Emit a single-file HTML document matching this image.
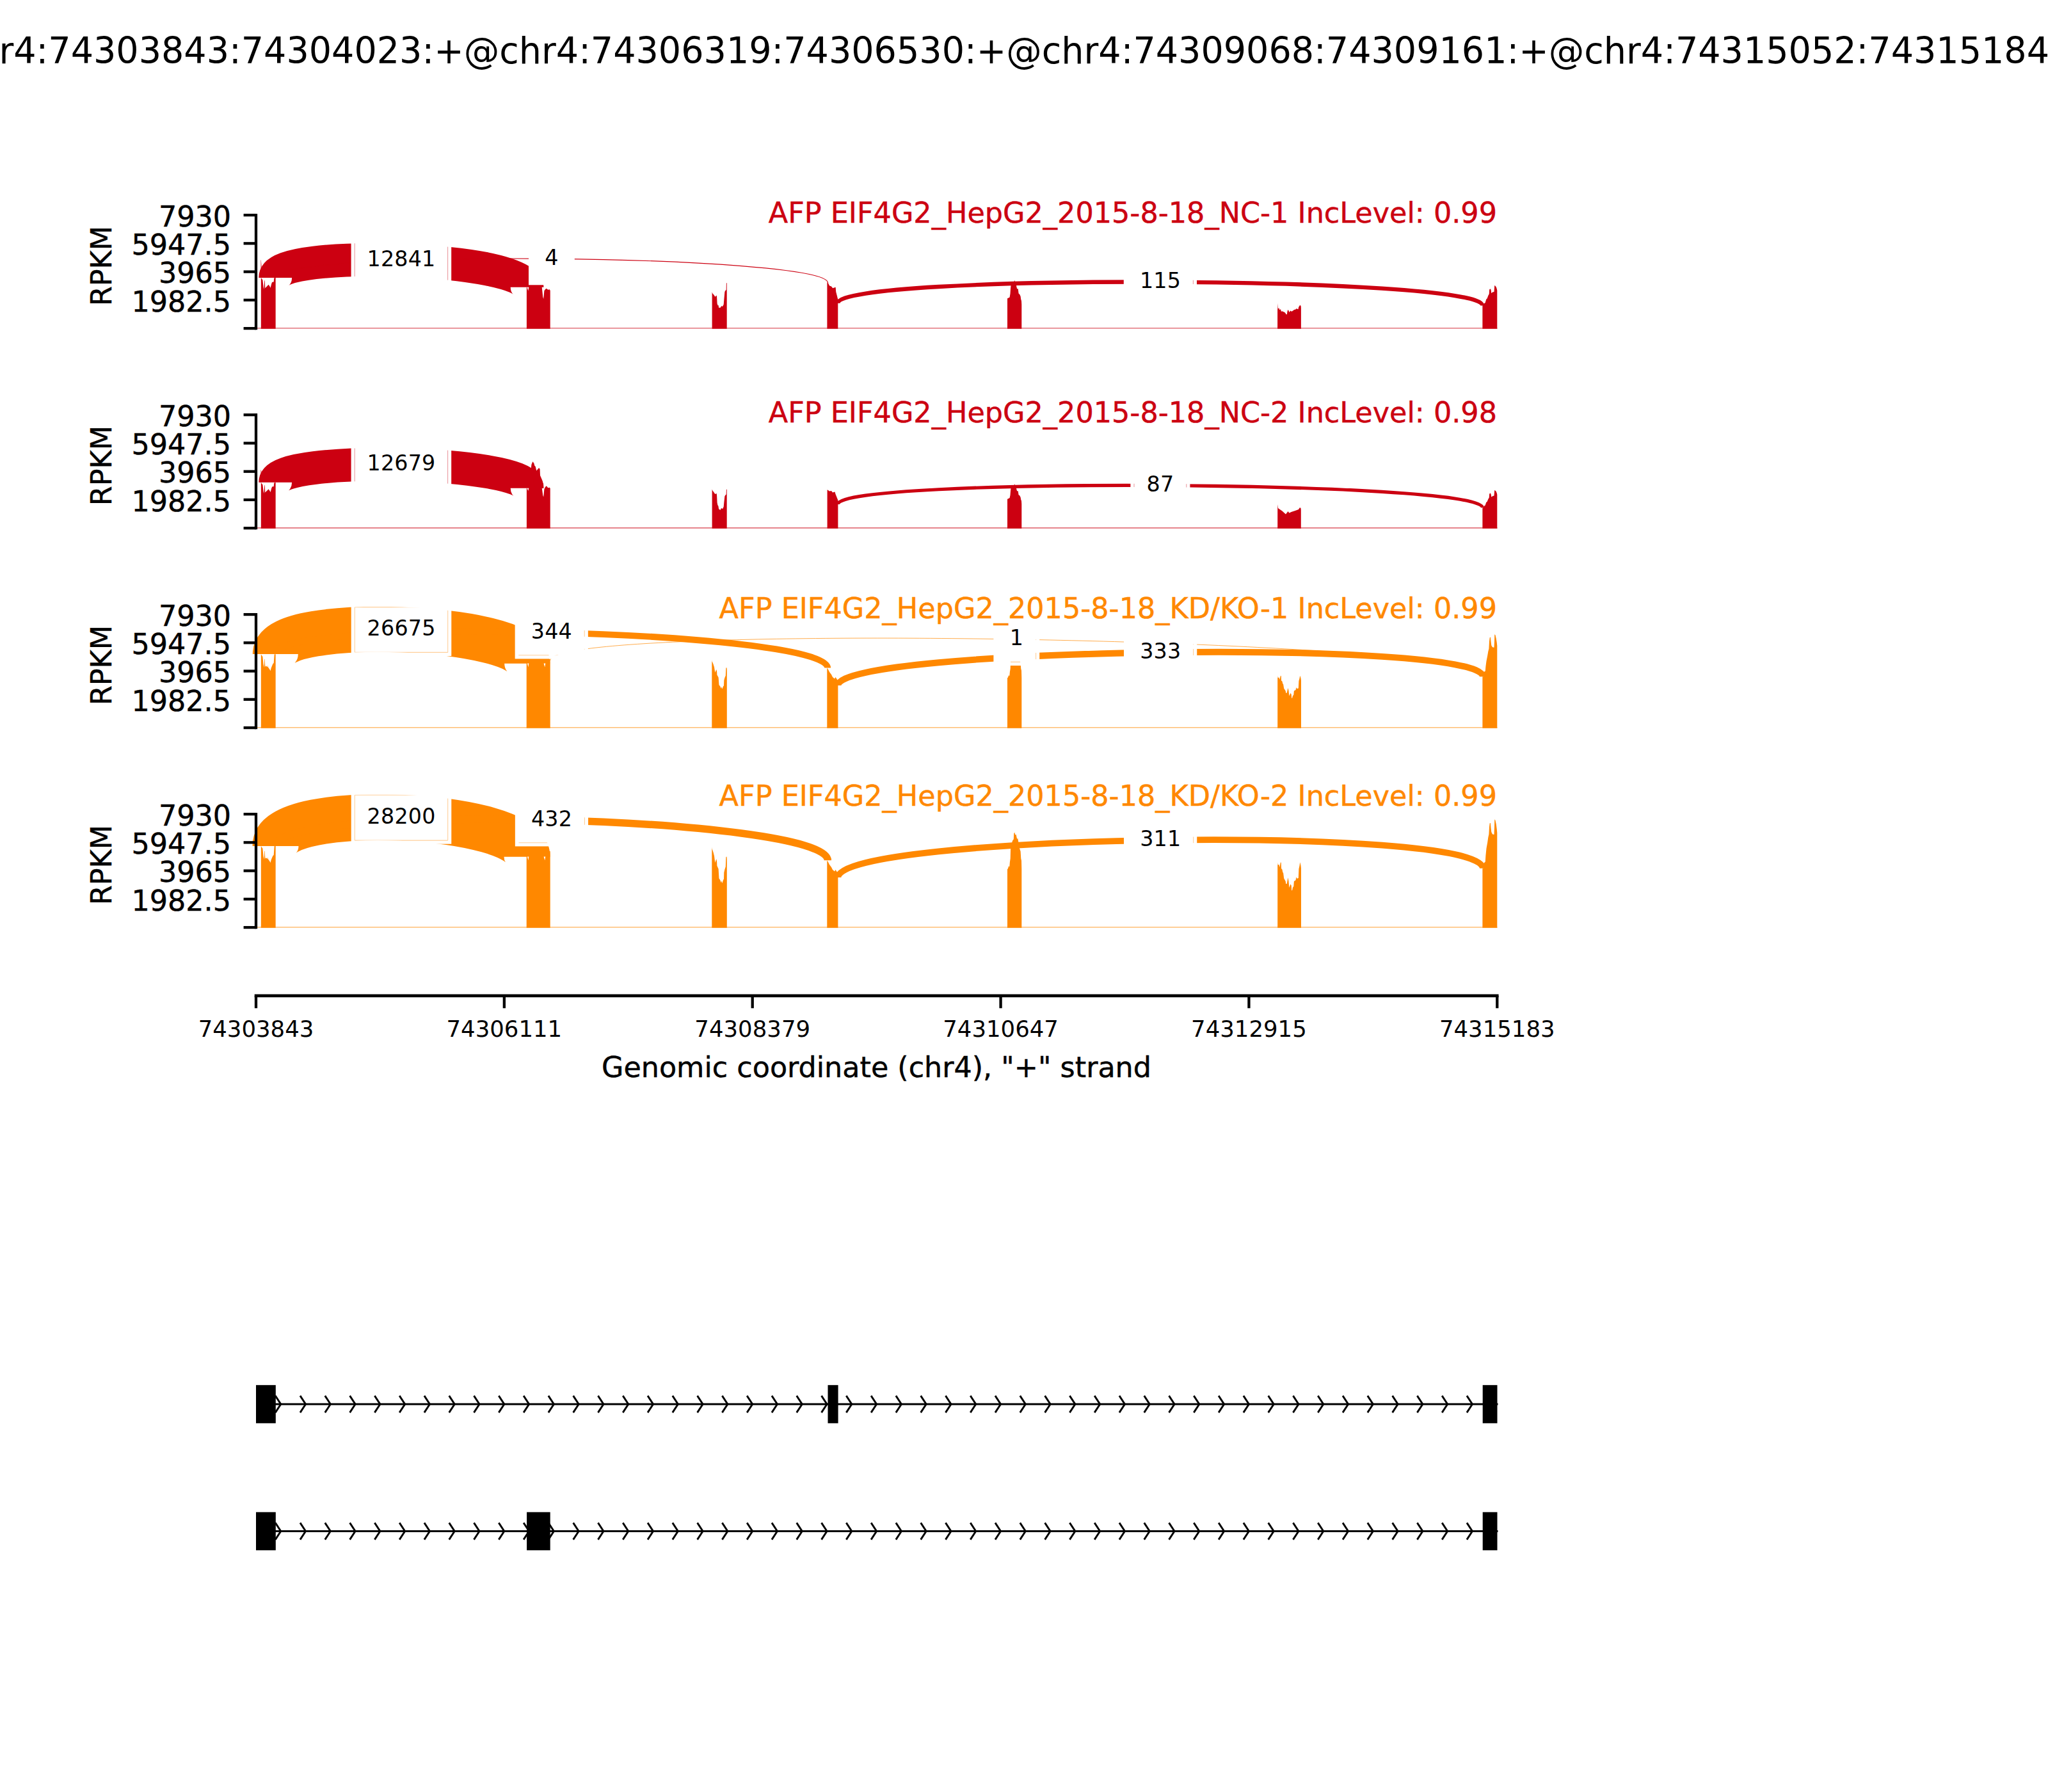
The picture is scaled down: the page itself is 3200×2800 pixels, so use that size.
<!DOCTYPE html>
<html lang="en"><head><meta charset="utf-8"><title>Sashimi plot</title>
<style>html,body{margin:0;padding:0;background:#fff;width:3200px;height:2800px}svg{display:block}text{font-family:'DejaVu Sans','Liberation Sans',sans-serif;fill:#000}.b{stroke:#000;stroke-width:.45px}.r{stroke:#CC0011;stroke-width:.45px}.o{stroke:#FF8800;stroke-width:.45px}</style></head><body>
<svg width="3200" height="2800" viewBox="0 0 3200 2800">
<rect width="3200" height="2800" fill="#fff"/>
<text transform="translate(1600 98.6) scale(1 1.022)" font-size="55.56" text-anchor="middle">chr4:74303843:74304023:+@chr4:74306319:74306530:+@chr4:74309068:74309161:+@chr4:74315052:74315184:+</text>
<g id="panel1">
<g id="ink0">
<line x1="402" y1="512.8" x2="2339.5" y2="512.8" stroke="#CC0011" stroke-width="1.6" stroke-opacity="0.55"/>
<polygon points="407.85,513.7 407.85,433.8 408.9,435.5 410.4,437.5 410.9,441.9 411.6,448.7 412.3,451.9 412.9,443.8 413.3,437.5 413.8,438.9 414.3,450.2 416.25,448.2 418.2,446.3 419.4,444.8 421.1,446.8 422.6,449.7 424.1,443.8 425.3,440.4 426.75,440.9 427.7,439.9 428.2,435.5 428.7,433.8 430.65,433.8 430.65,513.7" fill="#CC0011"/>
<polygon points="822.9,513.7 822.9,448.8 823.8,449.5 825.2,454.5 826.6,447.5 846.6,447.5 848.3,464 849.2,466.9 850.4,454.2 852,452 853.8,450.8 856.3,452.8 858.7,452.3 859.7,454 859.7,513.7" fill="#CC0011"/>
<polygon points="1112.6,513.7 1112.6,456.1 1113.1,458.1 1115.6,461.1 1117.4,463.7 1119.6,461.6 1120.1,464.2 1120.6,474.2 1121.6,477.2 1122.6,477 1123.1,480.7 1125.6,480.7 1127.4,478 1128.9,479 1130.7,475.7 1131.4,467.2 1132.4,456.1 1133.4,454.1 1134.7,453.1 1134.9,442.6 1135.7,442.1 1135.7,513.7" fill="#CC0011"/>
<polygon points="1292.4,513.7 1292.4,441.5 1293.9,442.3 1296.1,446.6 1299,447.4 1301.2,450.3 1305.6,448.8 1306.3,456.2 1307.8,462 1309.3,467.9 1309.3,513.7" fill="#CC0011"/>
<polygon points="1574,513.7 1574,466.3 1574.8,466 1577.6,464.4 1578.5,459.1 1579,451.3 1579.5,446.2 1580.5,443 1584.3,440.5 1585.4,437.9 1586,440.5 1587.9,445.9 1589.1,451.3 1590.7,451.3 1591.6,458.5 1593.2,459.9 1594.6,463 1595.2,467.4 1596,470.2 1596.3,475.8 1596.3,513.7" fill="#CC0011"/>
<polygon points="1996.1,513.7 1996.1,484.8 1996.4,473.8 1996.9,482.4 1998.4,481.1 1999.1,484 2001.1,483.2 2001.9,486.7 2003.4,486.3 2007.3,487.9 2008.9,489.8 2009.3,491 2010.9,491.2 2011.4,487.1 2012.4,484 2013.6,485.5 2014.4,487.9 2016.3,485.5 2018.3,486.7 2022.2,484 2024.9,483.2 2025.5,482 2026.5,482.6 2028.4,483.2 2029.2,479.7 2031.4,476.6 2032.7,478.5 2032.9,481.3 2032.9,513.7" fill="#CC0011"/>
<polygon points="2316.4,513.7 2316.4,477.2 2317.9,477 2318.9,474.2 2320.7,472.9 2322.2,467.7 2323.7,466.2 2325.5,461.6 2326.7,459.6 2327.2,452.6 2328.5,451.3 2329.5,452.6 2330.2,458.1 2332.2,456.6 2334.5,455.9 2335.2,446.6 2335.75,446.1 2337.8,448.6 2338.8,451.6 2339.3,454.1 2339.3,513.7" fill="#CC0011"/>
<polygon points="407.1,406.2 407.7,406.2 409.2,417.2 409.2,434 407.1,434" fill="#CC0011" fill-opacity="0.5"/>
<path d="M430.2 434C430.2 387.87 823.6 402.67 823.6 448.8" fill="none" stroke="#CC0011" stroke-width="51.8" stroke-linecap="butt"/>
<path d="M430.2 434C430.2 388.93 1293.6 397.13 1293.6 442.2" fill="none" stroke="#CC0011" stroke-width="1.2" stroke-linecap="butt"/>
<path d="M1309.3 473.7C1309.3 427.03 2316.5 430.83 2316.5 477.5" fill="none" stroke="#CC0011" stroke-width="6.35" stroke-linecap="butt"/>
</g>
<rect x="548.6" y="365.8" width="156.6" height="82" fill="#fff"/>
<clipPath id="seam0_0"><path d="M553.65 371.4h1.1v70.8h-1.1ZM699.05 371.4h1.1v70.8h-1.1Z"/></clipPath>
<use href="#ink0" clip-path="url(#seam0_0)" opacity="0.4"/>
<text x="627" y="416" font-size="33.33" letter-spacing="0.2" text-anchor="middle">12841</text>
<rect x="826" y="363.3" width="71.8" height="82" fill="#fff"/>
<text x="862" y="413.5" font-size="33.33" letter-spacing="0.2" text-anchor="middle">4</text>
<rect x="1755.8" y="399.6" width="114.2" height="82" fill="#fff"/>
<clipPath id="seam0_2"><path d="M1863.85 405.2h1.1v70.8h-1.1Z"/></clipPath>
<use href="#ink0" clip-path="url(#seam0_2)" opacity="0.4"/>
<text x="1813" y="449.8" font-size="33.33" letter-spacing="0.2" text-anchor="middle">115</text>
<line x1="400" y1="336.1" x2="400" y2="513.1" stroke="#000" stroke-width="4.3" stroke-linecap="square"/>
<line x1="380.6" y1="336.1" x2="400" y2="336.1" stroke="#000" stroke-width="4.3"/>
<text transform="translate(361 353.8) scale(1 1.01)" class="b" font-size="44.44" text-anchor="end">7930</text>
<line x1="380.6" y1="380.35" x2="400" y2="380.35" stroke="#000" stroke-width="4.3"/>
<text transform="translate(361 398.05) scale(1 1.01)" class="b" font-size="44.44" text-anchor="end">5947.5</text>
<line x1="380.6" y1="424.6" x2="400" y2="424.6" stroke="#000" stroke-width="4.3"/>
<text transform="translate(361 442.3) scale(1 1.01)" class="b" font-size="44.44" text-anchor="end">3965</text>
<line x1="380.6" y1="468.85" x2="400" y2="468.85" stroke="#000" stroke-width="4.3"/>
<text transform="translate(361 486.55) scale(1 1.01)" class="b" font-size="44.44" text-anchor="end">1982.5</text>
<line x1="380.6" y1="513.1" x2="400" y2="513.1" stroke="#000" stroke-width="4.3"/>
<text transform="translate(173.8 415.5) rotate(-90)" class="b" font-size="44.44" text-anchor="middle">RPKM</text>
<text transform="translate(2339 348.4) scale(1 0.995)" class="r" font-size="44.52" text-anchor="end" style="fill:#CC0011">AFP EIF4G2_HepG2_2015-8-18_NC-1 IncLevel: 0.99</text>
</g>
<g id="panel2">
<g id="ink1">
<line x1="402" y1="824.9" x2="2339.5" y2="824.9" stroke="#CC0011" stroke-width="1.6" stroke-opacity="0.55"/>
<polygon points="407.85,825.8 407.85,753.9 408.9,755.51 410.4,757.4 410.9,761.55 411.6,767.98 412.3,771 412.9,763.35 413.3,757.4 413.8,758.72 414.3,769.4 416.25,767.51 418.2,765.71 419.4,764.29 421.1,766.18 422.6,768.93 424.1,763.35 425.3,760.14 426.75,760.61 427.7,759.66 428.2,755.51 428.7,753.9 430.65,753.9 430.65,825.8" fill="#CC0011"/>
<polygon points="822.9,825.8 822.9,762.8 823.8,763.5 825.2,767.1 826.6,761.5 846.6,761.5 848.3,774 849.2,776.4 850.4,764.2 852,761 853.8,759.3 856.3,762.3 858.7,761.8 859.7,763 859.7,825.8" fill="#CC0011"/>
<polygon points="1112.6,825.8 1112.6,764.6 1113.1,766.1 1115.6,769.6 1117.4,771.9 1119.6,771.1 1120.1,774.2 1120.6,785.2 1121.4,789.2 1122.4,790.7 1123.1,795.25 1125.4,797 1127.1,794 1129.2,795 1130.7,791.7 1131.4,784.2 1132.4,775.2 1133.4,773.7 1134.7,772.6 1134.9,765.1 1135.7,764.6 1135.7,825.8" fill="#CC0011"/>
<polygon points="1292.6,825.8 1292.6,765.2 1294,766 1296,767.5 1299,767 1301,769.5 1304.5,768.5 1305.5,772 1307.5,777 1309.4,781.8 1309.4,825.8" fill="#CC0011"/>
<polygon points="1574,825.8 1574,779.64 1574.8,779.39 1577.6,778.07 1578.5,773.7 1579,767.28 1579.5,763.07 1580.5,760.44 1584.3,758.38 1585.4,756.24 1586,758.38 1587.9,762.83 1589.1,767.28 1590.7,767.28 1591.6,773.21 1593.2,774.36 1594.6,776.92 1595.2,780.54 1596,782.85 1596.3,787.46 1596.3,825.8" fill="#CC0011"/>
<polygon points="1996.2,825.8 1996.2,788 1997,794 2003.5,798.5 2009,803.5 2012.5,799 2014.5,801.5 2017.5,800 2025,797.5 2029,796 2031,793 2032.5,794 2032.8,797 2032.8,825.8" fill="#CC0011"/>
<polygon points="2316.4,825.8 2316.4,793.43 2317.9,793.25 2318.9,790.77 2320.7,789.62 2322.2,785.02 2323.7,783.69 2325.5,779.62 2326.7,777.85 2327.2,771.66 2328.5,770.51 2329.5,771.66 2330.2,776.53 2332.2,775.2 2334.5,774.58 2335.2,766.35 2335.75,765.91 2337.8,768.12 2338.8,770.77 2339.3,772.99 2339.3,825.8" fill="#CC0011"/>
<polygon points="407.1,734.2 407.7,734.2 409.2,738.2 409.2,753.8 407.1,753.8" fill="#CC0011" fill-opacity="0.5"/>
<path d="M430.2 753.8C430.2 710.73 823.6 719.73 823.6 762.8" fill="none" stroke="#CC0011" stroke-width="51.8" stroke-linecap="butt"/>
<path d="M1309.3 787.9C1309.3 745.3 2316.5 750.6 2316.5 793.2" fill="none" stroke="#CC0011" stroke-width="5.2" stroke-linecap="butt"/>
<polygon points="829.9,731 830.4,726.1 832.3,721.3 834.3,723.7 835.3,727.6 836.7,729.1 838.2,735.4 842.1,731 843.6,733 844,742.7 849.1,756.4 849.1,762.8 836.7,762.8 829.9,738.8" fill="#CC0011"/>
</g>
<rect x="548.6" y="685" width="156.6" height="82" fill="#fff"/>
<clipPath id="seam1_0"><path d="M553.65 690.6h1.1v70.8h-1.1ZM699.05 690.6h1.1v70.8h-1.1Z"/></clipPath>
<use href="#ink1" clip-path="url(#seam1_0)" opacity="0.4"/>
<text x="627" y="735.2" font-size="33.33" letter-spacing="0.2" text-anchor="middle">12679</text>
<rect x="1766.4" y="717.6" width="93" height="82" fill="#fff"/>
<clipPath id="seam1_1"><path d="M1771.45 723.2h1.1v70.8h-1.1ZM1853.25 723.2h1.1v70.8h-1.1Z"/></clipPath>
<use href="#ink1" clip-path="url(#seam1_1)" opacity="0.4"/>
<text x="1813" y="767.8" font-size="33.33" letter-spacing="0.2" text-anchor="middle">87</text>
<line x1="400" y1="648.2" x2="400" y2="825.2" stroke="#000" stroke-width="4.3" stroke-linecap="square"/>
<line x1="380.6" y1="648.2" x2="400" y2="648.2" stroke="#000" stroke-width="4.3"/>
<text transform="translate(361 665.9) scale(1 1.01)" class="b" font-size="44.44" text-anchor="end">7930</text>
<line x1="380.6" y1="692.45" x2="400" y2="692.45" stroke="#000" stroke-width="4.3"/>
<text transform="translate(361 710.15) scale(1 1.01)" class="b" font-size="44.44" text-anchor="end">5947.5</text>
<line x1="380.6" y1="736.7" x2="400" y2="736.7" stroke="#000" stroke-width="4.3"/>
<text transform="translate(361 754.4) scale(1 1.01)" class="b" font-size="44.44" text-anchor="end">3965</text>
<line x1="380.6" y1="780.95" x2="400" y2="780.95" stroke="#000" stroke-width="4.3"/>
<text transform="translate(361 798.65) scale(1 1.01)" class="b" font-size="44.44" text-anchor="end">1982.5</text>
<line x1="380.6" y1="825.2" x2="400" y2="825.2" stroke="#000" stroke-width="4.3"/>
<text transform="translate(173.8 727.6) rotate(-90)" class="b" font-size="44.44" text-anchor="middle">RPKM</text>
<text transform="translate(2339 660.4) scale(1 0.995)" class="r" font-size="44.52" text-anchor="end" style="fill:#CC0011">AFP EIF4G2_HepG2_2015-8-18_NC-2 IncLevel: 0.98</text>
</g>
<g id="panel3">
<g id="ink2">
<line x1="402" y1="1136.8" x2="2339.5" y2="1136.8" stroke="#FF8800" stroke-width="1.6" stroke-opacity="0.55"/>
<polygon points="407.85,1137.7 407.85,1022.2 408.9,1023.9 410.4,1025.9 410.9,1031.25 411.6,1038.1 412.3,1043 413.1,1036.6 413.3,1029.8 413.8,1030.3 414.3,1042 415.3,1040.5 417.2,1041.5 418.2,1042.5 418.4,1039 418.9,1042.5 421.1,1045.4 422.6,1048.3 423.6,1043.9 425,1040.5 426.5,1037.1 427.7,1036.1 428.2,1029.3 428.7,1022.2 430.65,1022.2 430.65,1137.7" fill="#FF8800"/>
<polygon points="822.7,1137.7 822.7,1030 859.7,1030 859.7,1137.7" fill="#FF8800"/>
<polygon points="1112.3,1137.7 1112.3,1031.2 1112.7,1034 1113.2,1034.6 1114.6,1037.9 1116,1042.4 1117.3,1050.7 1119.3,1046 1120.1,1049.1 1120.4,1054.6 1122.6,1058.5 1123.5,1070.3 1125.4,1072.5 1126.3,1075.8 1127.1,1073.1 1128.5,1076.4 1130.2,1071.9 1131,1071.4 1131.3,1063 1132.4,1059.1 1133.8,1055.8 1134.4,1043.5 1135.5,1043.2 1135.8,1046 1135.8,1137.7" fill="#FF8800"/>
<polygon points="1292.3,1137.7 1292.3,1043.5 1294,1046 1296,1050 1299,1054 1301,1058 1304,1060.5 1305.5,1058 1307.5,1061 1309.4,1064.3 1309.4,1137.7" fill="#FF8800"/>
<polygon points="1574,1137.7 1574,1059.29 1574.8,1058.78 1576.2,1055.02 1577.3,1056.47 1577.9,1049.8 1578.7,1045.02 1579.1,1032.11 1581.25,1023.56 1582.1,1021.16 1583.8,1019.24 1584.3,1011.59 1585.3,1009.96 1586.3,1013.55 1587.5,1012.78 1589.1,1018.77 1590.3,1018.25 1591.3,1023.04 1593,1031.42 1594.6,1035.44 1595.3,1045.02 1596,1047.84 1596.3,1059.21 1596.3,1137.7" fill="#FF8800"/>
<polygon points="1996.2,1137.7 1996.2,1055.7 1996.7,1059 1998.4,1058.5 1999.5,1061.8 2000.9,1055.7 2001.8,1056.2 2002,1063.5 2003.4,1064.6 2004.3,1068.2 2005.1,1069.1 2006.2,1075.8 2008.7,1079.4 2009.3,1082.7 2010.7,1082.7 2012.4,1074.9 2013.5,1079.1 2014.3,1087.5 2016.3,1083 2017.7,1084.7 2018.2,1090.8 2019.1,1090.8 2019.9,1087.2 2021.3,1085.8 2021.9,1079.4 2024.6,1078 2025.3,1074.1 2026.3,1076 2028.8,1075.5 2029.4,1064 2030.5,1060.1 2031.3,1055.7 2032.5,1059.6 2033,1063.5 2033,1137.7" fill="#FF8800"/>
<polygon points="2316.4,1137.7 2316.4,1057.3 2318,1057.3 2318.3,1050.3 2320.8,1048.6 2321.4,1041.4 2322.5,1033 2324.2,1024.6 2325.3,1017.9 2326.4,1013.5 2327,1002.3 2327.8,996.2 2328.9,995.6 2329.5,1002.3 2330.3,1008.5 2332,1011.3 2334.5,1011.8 2335,1002.3 2335.3,991.2 2336.5,992.3 2337.8,997.9 2338.7,1003.4 2339.3,1009 2339.3,1137.7" fill="#FF8800"/>
<path d="M430.3 1022C430.3 961.47 823.7 976.27 823.7 1036.8" fill="none" stroke="#FF8800" stroke-width="71" stroke-linecap="butt"/>
<path d="M430.3 1022C430.3 962.87 1293.2 984.37 1293.2 1043.5" fill="none" stroke="#FF8800" stroke-width="9.8" stroke-linecap="butt"/>
<path d="M1309.4 1071C1309.4 1011.33 2316.9 997.63 2316.9 1057.3" fill="none" stroke="#FF8800" stroke-width="10" stroke-linecap="butt"/>
<path d="M859.7 1032C859.7 971.13 2316.9 996.43 2316.9 1057.3" fill="none" stroke="#FF8800" stroke-width="0.7" stroke-linecap="butt"/>
<polygon points="824,1036.5 826.3,1036.5 825.45,1042.4" fill="#fff"/>
<polygon points="849.6,1036.5 852.3,1036.5 851.25,1042.4" fill="#fff"/>
</g>
<rect x="548.7" y="943" width="156.6" height="82" fill="#fff"/>
<clipPath id="seam2_0"><path d="M553.75 948.6h1.1v70.8h-1.1ZM699.15 948.6h1.1v70.8h-1.1ZM554.3 948.05h145.4v1.1h-145.4ZM554.3 1018.85h145.4v1.1h-145.4Z"/></clipPath>
<use href="#ink2" clip-path="url(#seam2_0)" opacity="0.4"/>
<text x="627.1" y="993.2" font-size="33.33" letter-spacing="0.2" text-anchor="middle">26675</text>
<rect x="804.65" y="947.4" width="114.2" height="82" fill="#fff"/>
<clipPath id="seam2_1"><path d="M912.7 953h1.1v70.8h-1.1ZM810.25 1023.25h103v1.1h-103Z"/></clipPath>
<use href="#ink2" clip-path="url(#seam2_1)" opacity="0.4"/>
<text x="861.85" y="997.6" font-size="33.33" letter-spacing="0.2" text-anchor="middle">344</text>
<rect x="1756.05" y="978.4" width="114.2" height="82" fill="#fff"/>
<clipPath id="seam2_2"><path d="M1864.1 984h1.1v70.8h-1.1Z"/></clipPath>
<use href="#ink2" clip-path="url(#seam2_2)" opacity="0.4"/>
<text x="1813.25" y="1028.6" font-size="33.33" letter-spacing="0.2" text-anchor="middle">333</text>
<rect x="1552.4" y="958" width="71.8" height="82" fill="#fff"/>
<clipPath id="seam2_3"><path d="M1618.05 963.6h1.1v70.8h-1.1ZM1558 1033.85h60.6v1.1h-60.6Z"/></clipPath>
<use href="#ink2" clip-path="url(#seam2_3)" opacity="0.4"/>
<text x="1588.4" y="1008.2" font-size="33.33" letter-spacing="0.2" text-anchor="middle">1</text>
<line x1="400" y1="960.1" x2="400" y2="1137.1" stroke="#000" stroke-width="4.3" stroke-linecap="square"/>
<line x1="380.6" y1="960.1" x2="400" y2="960.1" stroke="#000" stroke-width="4.3"/>
<text transform="translate(361 977.8) scale(1 1.01)" class="b" font-size="44.44" text-anchor="end">7930</text>
<line x1="380.6" y1="1004.35" x2="400" y2="1004.35" stroke="#000" stroke-width="4.3"/>
<text transform="translate(361 1022.05) scale(1 1.01)" class="b" font-size="44.44" text-anchor="end">5947.5</text>
<line x1="380.6" y1="1048.6" x2="400" y2="1048.6" stroke="#000" stroke-width="4.3"/>
<text transform="translate(361 1066.3) scale(1 1.01)" class="b" font-size="44.44" text-anchor="end">3965</text>
<line x1="380.6" y1="1092.85" x2="400" y2="1092.85" stroke="#000" stroke-width="4.3"/>
<text transform="translate(361 1110.55) scale(1 1.01)" class="b" font-size="44.44" text-anchor="end">1982.5</text>
<line x1="380.6" y1="1137.1" x2="400" y2="1137.1" stroke="#000" stroke-width="4.3"/>
<text transform="translate(173.8 1039.5) rotate(-90)" class="b" font-size="44.44" text-anchor="middle">RPKM</text>
<text transform="translate(2339 966.3) scale(1 0.995)" class="o" font-size="44.52" text-anchor="end" style="fill:#FF8800">AFP EIF4G2_HepG2_2015-8-18_KD/KO-1 IncLevel: 0.99</text>
</g>
<g id="panel4">
<g id="ink3">
<line x1="402" y1="1448.8" x2="2339.5" y2="1448.8" stroke="#FF8800" stroke-width="1.6" stroke-opacity="0.55"/>
<polygon points="407.85,1449.7 407.85,1322 408.9,1323.7 410.4,1325.7 410.9,1331.05 411.6,1337.9 412.3,1342.8 413.1,1336.4 413.3,1329.6 413.8,1330.1 414.3,1341.8 415.3,1340.3 417.2,1341.3 418.2,1342.3 418.4,1338.8 418.9,1342.3 421.1,1345.2 422.6,1348.1 423.6,1343.7 425,1340.3 426.5,1336.9 427.7,1335.9 428.2,1329.1 428.7,1322 430.65,1322 430.65,1449.7" fill="#FF8800"/>
<polygon points="822.7,1449.7 822.7,1330 859.7,1330 859.7,1449.7" fill="#FF8800"/>
<polygon points="1112.3,1449.7 1112.3,1323.58 1112.7,1327.08 1113.2,1327.83 1114.6,1331.96 1116,1337.59 1117.3,1347.97 1119.3,1342.09 1120.1,1345.97 1120.4,1352.85 1122.6,1357.73 1123.5,1372.49 1125.4,1375.25 1126.3,1379.37 1127.1,1376 1128.5,1380.12 1130.2,1374.49 1131,1373.87 1131.3,1363.36 1132.4,1358.48 1133.8,1354.35 1134.4,1338.97 1135.5,1338.59 1135.8,1342.09 1135.8,1449.7" fill="#FF8800"/>
<polygon points="1292.3,1449.7 1292.3,1344.3 1294,1347 1296,1351 1299,1355 1301,1359 1304,1361.5 1305.5,1359 1307.5,1362 1309.4,1364.3 1309.4,1449.7" fill="#FF8800"/>
<polygon points="1574,1449.7 1574,1358.1 1574.8,1357.5 1576.2,1353.1 1577.3,1354.8 1577.9,1347 1578.7,1341.4 1579.1,1326.3 1581.25,1316.3 1582.1,1313.5 1583.8,1311.25 1584.3,1302.3 1585.3,1300.4 1586.3,1304.6 1587.5,1303.7 1589.1,1310.7 1590.3,1310.1 1591.3,1315.7 1593,1325.5 1594.6,1330.2 1595.3,1341.4 1596,1344.7 1596.3,1358 1596.3,1449.7" fill="#FF8800"/>
<polygon points="1996.2,1449.7 1996.2,1347.35 1996.7,1351.47 1998.4,1350.85 1999.5,1354.97 2000.9,1347.35 2001.8,1347.98 2002,1357.1 2003.4,1358.47 2004.3,1362.98 2005.1,1364.1 2006.2,1372.47 2008.7,1376.98 2009.3,1381.1 2010.7,1381.1 2012.4,1371.35 2013.5,1376.6 2014.3,1387.1 2016.3,1381.47 2017.7,1383.6 2018.2,1391.22 2019.1,1391.22 2019.9,1386.73 2021.3,1384.97 2021.9,1376.98 2024.6,1375.22 2025.3,1370.35 2026.3,1372.72 2028.8,1372.1 2029.4,1357.72 2030.5,1352.85 2031.3,1347.35 2032.5,1352.22 2033,1357.1 2033,1449.7" fill="#FF8800"/>
<polygon points="2316.4,1449.7 2316.4,1356.8 2318,1356.8 2318.3,1348.7 2320.8,1346.5 2321.4,1337 2322.5,1325.8 2324.2,1316.3 2325.3,1308.5 2326.4,1303.5 2327,1292.3 2327.8,1286.2 2328.9,1285.9 2329.5,1293.4 2330.3,1300.1 2332,1303.5 2334.5,1304 2335,1292.3 2335.3,1280.3 2336.5,1281.7 2337.8,1287.9 2338.7,1295.1 2339.3,1301.3 2339.3,1449.7" fill="#FF8800"/>
<path d="M430.5 1321.9C430.5 1251.77 823.5 1268.57 823.5 1338.7" fill="none" stroke="#FF8800" stroke-width="72" stroke-linecap="butt"/>
<path d="M430.5 1321.9C430.5 1252.97 1293.4 1275.37 1293.4 1344.3" fill="none" stroke="#FF8800" stroke-width="11.5" stroke-linecap="butt"/>
<path d="M1309.4 1371C1309.4 1302.87 2316.9 1288.67 2316.9 1356.8" fill="none" stroke="#FF8800" stroke-width="9.8" stroke-linecap="butt"/>
<polygon points="824,1338.4 826.3,1338.4 825.45,1344.3" fill="#fff"/>
<polygon points="849.6,1338.4 852.3,1338.4 851.25,1344.3" fill="#fff"/>
</g>
<rect x="548.7" y="1236.7" width="156.6" height="82" fill="#fff"/>
<clipPath id="seam3_0"><path d="M553.75 1242.3h1.1v70.8h-1.1ZM699.15 1242.3h1.1v70.8h-1.1ZM554.3 1241.75h145.4v1.1h-145.4ZM554.3 1312.55h145.4v1.1h-145.4Z"/></clipPath>
<use href="#ink3" clip-path="url(#seam3_0)" opacity="0.4"/>
<text x="627.1" y="1286.9" font-size="33.33" letter-spacing="0.2" text-anchor="middle">28200</text>
<rect x="804.85" y="1240.4" width="114.2" height="82" fill="#fff"/>
<clipPath id="seam3_1"><path d="M912.9 1246h1.1v70.8h-1.1ZM810.45 1316.25h103v1.1h-103Z"/></clipPath>
<use href="#ink3" clip-path="url(#seam3_1)" opacity="0.4"/>
<text x="862.05" y="1290.6" font-size="33.33" letter-spacing="0.2" text-anchor="middle">432</text>
<rect x="1756.05" y="1271.8" width="114.2" height="82" fill="#fff"/>
<clipPath id="seam3_2"><path d="M1864.1 1277.4h1.1v70.8h-1.1Z"/></clipPath>
<use href="#ink3" clip-path="url(#seam3_2)" opacity="0.4"/>
<text x="1813.25" y="1322" font-size="33.33" letter-spacing="0.2" text-anchor="middle">311</text>
<line x1="400" y1="1272.1" x2="400" y2="1449.1" stroke="#000" stroke-width="4.3" stroke-linecap="square"/>
<line x1="380.6" y1="1272.1" x2="400" y2="1272.1" stroke="#000" stroke-width="4.3"/>
<text transform="translate(361 1289.8) scale(1 1.01)" class="b" font-size="44.44" text-anchor="end">7930</text>
<line x1="380.6" y1="1316.35" x2="400" y2="1316.35" stroke="#000" stroke-width="4.3"/>
<text transform="translate(361 1334.05) scale(1 1.01)" class="b" font-size="44.44" text-anchor="end">5947.5</text>
<line x1="380.6" y1="1360.6" x2="400" y2="1360.6" stroke="#000" stroke-width="4.3"/>
<text transform="translate(361 1378.3) scale(1 1.01)" class="b" font-size="44.44" text-anchor="end">3965</text>
<line x1="380.6" y1="1404.85" x2="400" y2="1404.85" stroke="#000" stroke-width="4.3"/>
<text transform="translate(361 1422.55) scale(1 1.01)" class="b" font-size="44.44" text-anchor="end">1982.5</text>
<line x1="380.6" y1="1449.1" x2="400" y2="1449.1" stroke="#000" stroke-width="4.3"/>
<text transform="translate(173.8 1351.5) rotate(-90)" class="b" font-size="44.44" text-anchor="middle">RPKM</text>
<text transform="translate(2339 1259.3) scale(1 0.995)" class="o" font-size="44.52" text-anchor="end" style="fill:#FF8800">AFP EIF4G2_HepG2_2015-8-18_KD/KO-2 IncLevel: 0.99</text>
</g>
<g id="xaxis">
<line x1="400" y1="1555.9" x2="2339.3" y2="1555.9" stroke="#000" stroke-width="4.6" stroke-linecap="square"/>
<line x1="400" y1="1555.9" x2="400" y2="1575.3" stroke="#000" stroke-width="4.3"/>
<text x="400" y="1620.1" font-size="35.5" text-anchor="middle">74303843</text>
<line x1="787.86" y1="1555.9" x2="787.86" y2="1575.3" stroke="#000" stroke-width="4.3"/>
<text x="787.86" y="1620.1" font-size="35.5" text-anchor="middle">74306111</text>
<line x1="1175.72" y1="1555.9" x2="1175.72" y2="1575.3" stroke="#000" stroke-width="4.3"/>
<text x="1175.72" y="1620.1" font-size="35.5" text-anchor="middle">74308379</text>
<line x1="1563.58" y1="1555.9" x2="1563.58" y2="1575.3" stroke="#000" stroke-width="4.3"/>
<text x="1563.58" y="1620.1" font-size="35.5" text-anchor="middle">74310647</text>
<line x1="1951.44" y1="1555.9" x2="1951.44" y2="1575.3" stroke="#000" stroke-width="4.3"/>
<text x="1951.44" y="1620.1" font-size="35.5" text-anchor="middle">74312915</text>
<line x1="2339.3" y1="1555.9" x2="2339.3" y2="1575.3" stroke="#000" stroke-width="4.3"/>
<text x="2339.3" y="1620.1" font-size="35.5" text-anchor="middle">74315183</text>
<text transform="translate(1369.5 1683.4) scale(1 0.985)" class="b" font-size="44.44" text-anchor="middle">Genomic coordinate (chr4), "+" strand</text>
</g>
<g id="models">
<line x1="400" y1="2194" x2="2340.5" y2="2194" stroke="#000" stroke-width="2.9"/>
<path d="M431.03 2182.1L438.79 2194L431.03 2205.9M469.81 2182.1L477.57 2194L469.81 2205.9M508.6 2182.1L516.36 2194L508.6 2205.9M547.38 2182.1L555.14 2194L547.38 2205.9M586.17 2182.1L593.93 2194L586.17 2205.9M624.96 2182.1L632.72 2194L624.96 2205.9M663.74 2182.1L671.5 2194L663.74 2205.9M702.53 2182.1L710.29 2194L702.53 2205.9M741.31 2182.1L749.07 2194L741.31 2205.9M780.1 2182.1L787.86 2194L780.1 2205.9M818.89 2182.1L826.65 2194L818.89 2205.9M857.67 2182.1L865.43 2194L857.67 2205.9M896.46 2182.1L904.22 2194L896.46 2205.9M935.24 2182.1L943 2194L935.24 2205.9M974.03 2182.1L981.79 2194L974.03 2205.9M1012.82 2182.1L1020.58 2194L1012.82 2205.9M1051.6 2182.1L1059.36 2194L1051.6 2205.9M1090.39 2182.1L1098.15 2194L1090.39 2205.9M1129.17 2182.1L1136.93 2194L1129.17 2205.9M1167.96 2182.1L1175.72 2194L1167.96 2205.9M1206.75 2182.1L1214.51 2194L1206.75 2205.9M1245.53 2182.1L1253.29 2194L1245.53 2205.9M1284.32 2182.1L1292.08 2194L1284.32 2205.9M1323.1 2182.1L1330.86 2194L1323.1 2205.9M1361.89 2182.1L1369.65 2194L1361.89 2205.9M1400.68 2182.1L1408.44 2194L1400.68 2205.9M1439.46 2182.1L1447.22 2194L1439.46 2205.9M1478.25 2182.1L1486.01 2194L1478.25 2205.9M1517.03 2182.1L1524.79 2194L1517.03 2205.9M1555.82 2182.1L1563.58 2194L1555.82 2205.9M1594.61 2182.1L1602.37 2194L1594.61 2205.9M1633.39 2182.1L1641.15 2194L1633.39 2205.9M1672.18 2182.1L1679.94 2194L1672.18 2205.9M1710.96 2182.1L1718.72 2194L1710.96 2205.9M1749.75 2182.1L1757.51 2194L1749.75 2205.9M1788.54 2182.1L1796.3 2194L1788.54 2205.9M1827.32 2182.1L1835.08 2194L1827.32 2205.9M1866.11 2182.1L1873.87 2194L1866.11 2205.9M1904.89 2182.1L1912.65 2194L1904.89 2205.9M1943.68 2182.1L1951.44 2194L1943.68 2205.9M1982.47 2182.1L1990.23 2194L1982.47 2205.9M2021.25 2182.1L2029.01 2194L2021.25 2205.9M2060.04 2182.1L2067.8 2194L2060.04 2205.9M2098.82 2182.1L2106.58 2194L2098.82 2205.9M2137.61 2182.1L2145.37 2194L2137.61 2205.9M2176.4 2182.1L2184.16 2194L2176.4 2205.9M2215.18 2182.1L2222.94 2194L2215.18 2205.9M2253.97 2182.1L2261.73 2194L2253.97 2205.9M2292.75 2182.1L2300.51 2194L2292.75 2205.9" fill="none" stroke="#000" stroke-width="2.9" stroke-linecap="square" stroke-linejoin="miter"/>
<rect x="400" y="2164.2" width="30.8" height="59.6" fill="#000"/>
<rect x="1293.5" y="2164.2" width="16.1" height="59.6" fill="#000"/>
<rect x="2316.7" y="2164.2" width="22.8" height="59.6" fill="#000"/>
<line x1="400" y1="2392.5" x2="2340.5" y2="2392.5" stroke="#000" stroke-width="2.9"/>
<path d="M431.03 2380.6L438.79 2392.5L431.03 2404.4M469.81 2380.6L477.57 2392.5L469.81 2404.4M508.6 2380.6L516.36 2392.5L508.6 2404.4M547.38 2380.6L555.14 2392.5L547.38 2404.4M586.17 2380.6L593.93 2392.5L586.17 2404.4M624.96 2380.6L632.72 2392.5L624.96 2404.4M663.74 2380.6L671.5 2392.5L663.74 2404.4M702.53 2380.6L710.29 2392.5L702.53 2404.4M741.31 2380.6L749.07 2392.5L741.31 2404.4M780.1 2380.6L787.86 2392.5L780.1 2404.4M818.89 2380.6L826.65 2392.5L818.89 2404.4M857.67 2380.6L865.43 2392.5L857.67 2404.4M896.46 2380.6L904.22 2392.5L896.46 2404.4M935.24 2380.6L943 2392.5L935.24 2404.4M974.03 2380.6L981.79 2392.5L974.03 2404.4M1012.82 2380.6L1020.58 2392.5L1012.82 2404.4M1051.6 2380.6L1059.36 2392.5L1051.6 2404.4M1090.39 2380.6L1098.15 2392.5L1090.39 2404.4M1129.17 2380.6L1136.93 2392.5L1129.17 2404.4M1167.96 2380.6L1175.72 2392.5L1167.96 2404.4M1206.75 2380.6L1214.51 2392.5L1206.75 2404.4M1245.53 2380.6L1253.29 2392.5L1245.53 2404.4M1284.32 2380.6L1292.08 2392.5L1284.32 2404.4M1323.1 2380.6L1330.86 2392.5L1323.1 2404.4M1361.89 2380.6L1369.65 2392.5L1361.89 2404.4M1400.68 2380.6L1408.44 2392.5L1400.68 2404.4M1439.46 2380.6L1447.22 2392.5L1439.46 2404.4M1478.25 2380.6L1486.01 2392.5L1478.25 2404.4M1517.03 2380.6L1524.79 2392.5L1517.03 2404.4M1555.82 2380.6L1563.58 2392.5L1555.82 2404.4M1594.61 2380.6L1602.37 2392.5L1594.61 2404.4M1633.39 2380.6L1641.15 2392.5L1633.39 2404.4M1672.18 2380.6L1679.94 2392.5L1672.18 2404.4M1710.96 2380.6L1718.72 2392.5L1710.96 2404.4M1749.75 2380.6L1757.51 2392.5L1749.75 2404.4M1788.54 2380.6L1796.3 2392.5L1788.54 2404.4M1827.32 2380.6L1835.08 2392.5L1827.32 2404.4M1866.11 2380.6L1873.87 2392.5L1866.11 2404.4M1904.89 2380.6L1912.65 2392.5L1904.89 2404.4M1943.68 2380.6L1951.44 2392.5L1943.68 2404.4M1982.47 2380.6L1990.23 2392.5L1982.47 2404.4M2021.25 2380.6L2029.01 2392.5L2021.25 2404.4M2060.04 2380.6L2067.8 2392.5L2060.04 2404.4M2098.82 2380.6L2106.58 2392.5L2098.82 2404.4M2137.61 2380.6L2145.37 2392.5L2137.61 2404.4M2176.4 2380.6L2184.16 2392.5L2176.4 2404.4M2215.18 2380.6L2222.94 2392.5L2215.18 2404.4M2253.97 2380.6L2261.73 2392.5L2253.97 2404.4M2292.75 2380.6L2300.51 2392.5L2292.75 2404.4" fill="none" stroke="#000" stroke-width="2.9" stroke-linecap="square" stroke-linejoin="miter"/>
<rect x="400" y="2362.7" width="30.8" height="59.6" fill="#000"/>
<rect x="823.1" y="2362.7" width="36.6" height="59.6" fill="#000"/>
<rect x="2316.7" y="2362.7" width="22.8" height="59.6" fill="#000"/>
</g>
</svg></body></html>
